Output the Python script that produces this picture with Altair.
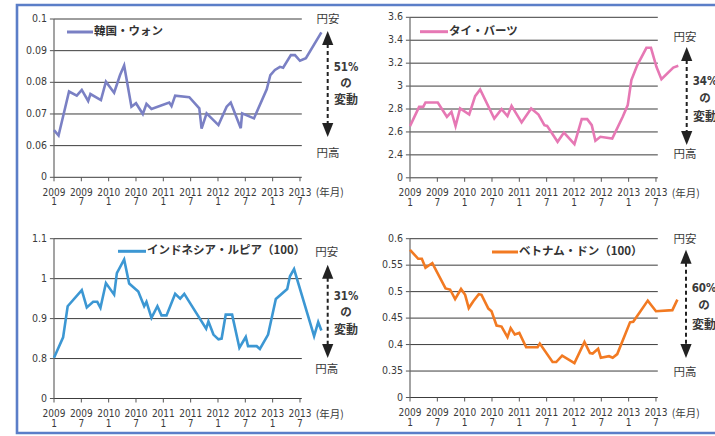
import altair as alt
import pandas as pd

FONT_NUM = "DejaVu Sans Condensed, Liberation Sans Narrow, DejaVu Sans, sans-serif"
FONT_JP = "Noto Sans CJK JP"
TXT = "#3a3a3a"

# month index: 0 = 2009-01
kr_month = [0, 1, 3.3, 5, 6.1, 7.5, 8, 10.3, 11.4, 13.2, 14.5, 15.4, 17, 18, 19.5, 20.3, 21.4, 25.3, 25.8, 26.6,
            29.7, 31.9, 32.4, 33.5, 36.1, 37.9, 38.8, 41, 41.3, 43.9, 46.7, 47.5, 48.5, 49.6, 50.3, 52, 52.9, 54, 55.3, 58.7]
kr_value = [0.0649, 0.0632, 0.0771, 0.0758, 0.0776, 0.0741, 0.0763, 0.0744, 0.0802, 0.0767, 0.0823, 0.0853, 0.0723,
            0.0734, 0.0700, 0.0732, 0.0716, 0.0736, 0.0725, 0.0758, 0.0753, 0.0718, 0.0654, 0.0702, 0.0665, 0.0723,
            0.0736, 0.0655, 0.0702, 0.0686, 0.0778, 0.0823, 0.0839, 0.0849, 0.0846, 0.0886, 0.0886, 0.0868, 0.0876, 0.0958]

th_month = [0, 2, 2.9, 3.4, 6.1, 8.1, 9.1, 10, 11, 13, 14.3, 15.4, 18.5, 20.1, 21.4, 22.3, 24.5, 26.6, 28.2, 29.5,
            30.1, 32.4, 33.8, 36.1, 37.7, 38.9, 39.9, 40.7, 41.8, 44.4, 46.7, 47.8, 48.6, 49.9, 51.9, 52.9, 54.1, 55.2, 57.8, 58.9]
th_value = [2.651, 2.819, 2.819, 2.857, 2.857, 2.732, 2.776, 2.651, 2.805, 2.752, 2.912, 2.970, 2.717, 2.799, 2.738,
            2.828, 2.683, 2.805, 2.752, 2.659, 2.653, 2.514, 2.595, 2.494, 2.712, 2.712, 2.659, 2.523, 2.558, 2.543,
            2.732, 2.834, 3.052, 3.183, 3.334, 3.334, 3.168, 3.060, 3.162, 3.177]

id_month = [0, 2, 3, 6.1, 7.2, 8.6, 9.5, 10.2, 11.4, 13.2, 13.8, 15.4, 16.5, 18.5, 19.8, 20.3, 21.4, 22.7, 23.6, 24.7,
            26.6, 27.7, 28.6, 33.4, 33.9, 35, 36.1, 36.8, 37.7, 39.1, 40.7, 42.1, 42.6, 44.5, 45.2, 47, 48.7, 51.2,
            51.8, 52.7, 57.1, 58, 58.7]
id_value = [0.802, 0.853, 0.931, 0.971, 0.928, 0.942, 0.942, 0.927, 0.989, 0.960, 1.014, 1.048, 0.988, 0.968, 0.931,
            0.942, 0.902, 0.931, 0.908, 0.908, 0.962, 0.950, 0.962, 0.875, 0.893, 0.860, 0.848, 0.850, 0.910, 0.910,
            0.827, 0.854, 0.831, 0.831, 0.824, 0.860, 0.949, 0.974, 1.006, 1.024, 0.856, 0.891, 0.870]

vn_month = [0, 1.8, 2.6, 3.4, 4.9, 7.8, 8.8, 9.9, 11.2, 12.1, 12.9, 13.9, 15.1, 15.7, 17.2, 17.9, 19, 20.1, 21.4, 22.1,
            23, 24, 25.5, 28, 28.5, 31.3, 32.1, 33.4, 36.1, 38.3, 39.5, 40.1, 41.3, 41.9, 43.7, 44.5, 45.5, 48.3, 49,
            52.2, 54, 57.6, 58.7]
vn_value = [0.579, 0.562, 0.562, 0.545, 0.554, 0.506, 0.504, 0.486, 0.505, 0.494, 0.469, 0.482, 0.495, 0.494, 0.468,
            0.463, 0.436, 0.434, 0.414, 0.431, 0.419, 0.422, 0.395, 0.395, 0.402, 0.367, 0.367, 0.379, 0.365, 0.405,
            0.384, 0.383, 0.392, 0.375, 0.378, 0.375, 0.382, 0.442, 0.443, 0.483, 0.463, 0.465, 0.485]

x_tick_month = [0, 6, 12, 18, 24, 30, 36, 42, 48, 54]
x_year = ["2009", "2009", "2010", "2010", "2011", "2011", "2012", "2012", "2013", "2013"]
x_mon = ["1", "7", "1", "7", "1", "7", "1", "7", "1", "7"]

kr_ticks = [0.05, 0.06, 0.07, 0.08, 0.09, 0.1]
kr_labels = ["0", "0.06", "0.07", "0.08", "0.09", "0.1"]
th_ticks = [2.2, 2.4, 2.6, 2.8, 3.0, 3.2, 3.4, 3.6]
th_labels = ["0", "2.4", "2.6", "2.8", "3", "3.2", "3.4", "3.6"]
id_ticks = [0.7, 0.8, 0.9, 1.0, 1.1]
id_labels = ["0", "0.8", "0.9", "1", "1.1"]
vn_ticks = [0.3, 0.35, 0.4, 0.45, 0.5, 0.55, 0.6]
vn_labels = ["0", "0.35", "0.4", "0.45", "0.5", "0.55", "0.6"]

XMAX = 54.4
ONE = pd.DataFrame({"k": [0]})


def txt(s, x, y, size=12, bold=False, align="center", font=FONT_JP, color=TXT):
    return alt.Chart(ONE).mark_text(text=s, align=align, baseline="middle", font=font, fontSize=size,
                                    fontWeight="bold" if bold else "normal", color=color).encode(
        x=alt.value(x), y=alt.value(y))


def panel(months, values, color, ticks, labels, ydom, xr, yr, legend, leg, ann):
    xs = alt.Scale(domain=[0, XMAX], range=xr)
    ys = alt.Scale(domain=ydom, range=yr)
    X = lambda f: alt.X(f, scale=xs, axis=None)
    Y = lambda f: alt.Y(f, scale=ys, axis=None)
    bottom = yr[0]

    gdf = pd.DataFrame({"y": ticks, "lab": labels, "x0": 0.0, "x1": XMAX, "t0": -0.9, "t1": 0.0})
    grid = alt.Chart(gdf).mark_rule(color="#3c3c3c", strokeWidth=1).encode(x=X("x0:Q"), x2="x1:Q", y=Y("y:Q"))
    ytk = alt.Chart(gdf).mark_rule(color="#555", strokeWidth=1).encode(x=X("t0:Q"), x2="t1:Q", y=Y("y:Q"))
    ylab = alt.Chart(gdf).mark_text(align="right", baseline="middle", font=FONT_NUM, fontSize=10.5,
                                    color=TXT).encode(x=alt.value(xr[0] - 7), y=Y("y:Q"), text="lab:N")
    adf = pd.DataFrame({"x": [0.0], "y0": [ydom[0]], "y1": [ydom[1]]})
    yaxis = alt.Chart(adf).mark_rule(color="#666", strokeWidth=1.2).encode(x=X("x:Q"), y=Y("y0:Q"), y2="y1:Q")

    xdf = pd.DataFrame({"m": x_tick_month, "yr": x_year, "mo": x_mon})
    xtk = alt.Chart(xdf).mark_rule(color="#555", strokeWidth=1).encode(
        x=X("m:Q"), y=alt.value(bottom), y2=alt.value(bottom + 4))
    xyr = alt.Chart(xdf).mark_text(baseline="middle", font=FONT_NUM, fontSize=10, color=TXT).encode(
        x=X("m:Q"), y=alt.value(bottom + 15.5), text="yr:N")
    xmo = alt.Chart(xdf).mark_text(baseline="middle", font=FONT_NUM, fontSize=10, color=TXT).encode(
        x=X("m:Q"), y=alt.value(bottom + 25), text="mo:N")
    nen = txt("(年月)", xr[1] + 28, bottom + 16, size=10.5)

    ldf = pd.DataFrame({"month": months, "value": values})
    line = alt.Chart(ldf).mark_line(color=color, strokeWidth=2.6, strokeJoin="miter").encode(
        x=X("month:Q"), y=Y("value:Q"))

    lx0, lx1, ly = leg
    legl = alt.Chart(ONE).mark_rule(color=color, strokeWidth=3).encode(
        x=alt.value(lx0), x2=alt.value(lx1), y=alt.value(ly))
    legt = txt(legend, lx1 + 1, ly, size=11.5, bold=True, align="left", color="#333")

    ax, yasu, taka, top_tip, bot_tip, pct, tx, ty = ann
    arrow_df = pd.DataFrame({"k": [0]})
    dash = alt.Chart(arrow_df).mark_rule(color="#222", strokeWidth=2, strokeDash=[4, 3]).encode(
        x=alt.value(ax), y=alt.value(top_tip + 13), y2=alt.value(bot_tip - 13))
    up = alt.Chart(arrow_df).mark_point(shape="M0,-1L0.8,1L-0.8,1Z", size=196, filled=True, color="#222",
                                        opacity=1).encode(x=alt.value(ax), y=alt.value(top_tip + 7))
    dn = alt.Chart(arrow_df).mark_point(shape="M0,1L0.8,-1L-0.8,-1Z", size=196, filled=True, color="#222",
                                        opacity=1).encode(x=alt.value(ax), y=alt.value(bot_tip - 7))
    t_yasu = txt("円安", yasu[0], yasu[1], size=11.5)
    t_taka = txt("円高", taka[0], taka[1], size=11.5)
    t_pct = txt(pct, tx, ty[0], size=11.5, bold=True, font="DejaVu Sans Condensed, DejaVu Sans, sans-serif")
    t_no = txt("の", tx, ty[1], size=11.5, bold=True)
    t_hen = txt("変動", tx, ty[2], size=12, bold=True)

    return alt.layer(grid, ytk, yaxis, ylab, xtk, xyr, xmo, nen, line, legl, legt,
                     dash, up, dn, t_yasu, t_taka, t_pct, t_no, t_hen)


p_kr = panel(kr_month, kr_value, "#7a80c4", kr_ticks, kr_labels, [0.05, 0.1], [54, 301.8], [177.3, 19],
             "韓国・ウォン", (67, 93, 32),
             (327.7, (328, 20), (328, 153.5), 31, 137, "51%", 346, (68, 84, 100)))
p_th = panel(th_month, th_value, "#e678b4", th_ticks, th_labels, [2.2, 3.6], [410, 657.8], [177.8, 17.3],
             "タイ・バーツ", (420, 448, 31.7),
             (686.7, (685, 38), (685, 155), 47, 145, "34%", 705, (82, 99, 117)))
p_id = panel(id_month, id_value, "#3c97d3", id_ticks, id_labels, [0.7, 1.1], [54, 301.8], [398.5, 238.7],
             "インドネシア・ルピア（100）", (118, 146, 251.3),
             (327.7, (326.7, 253), (326.7, 369.7), 264.7, 358, "31%", 346, (296.5, 312.5, 329.7)))
p_vn = panel(vn_month, vn_value, "#f27a22", vn_ticks, vn_labels, [0.3, 0.6], [410, 657.8], [397.5, 238.7],
             "ベトナム・ドン（100）", (492, 518, 252),
             (686, (685, 239.7), (685, 373), 249.7, 358, "60%", 704, (289, 306, 324.7)))

border = alt.Chart(ONE).mark_rect(filled=False, stroke="#5b7ec8", strokeWidth=2.6).encode(
    x=alt.value(17), x2=alt.value(740), y=alt.value(5), y2=alt.value(433))

chart = alt.layer(border, p_kr, p_th, p_id, p_vn).resolve_scale(
    x="independent", y="independent"
).properties(
    width=715, height=436, padding=0, autosize=alt.AutoSizeParams(type="none"), background="white"
).configure_view(stroke=None)

chart.save("out.html", embed_options={"renderer": "svg", "actions": False})
